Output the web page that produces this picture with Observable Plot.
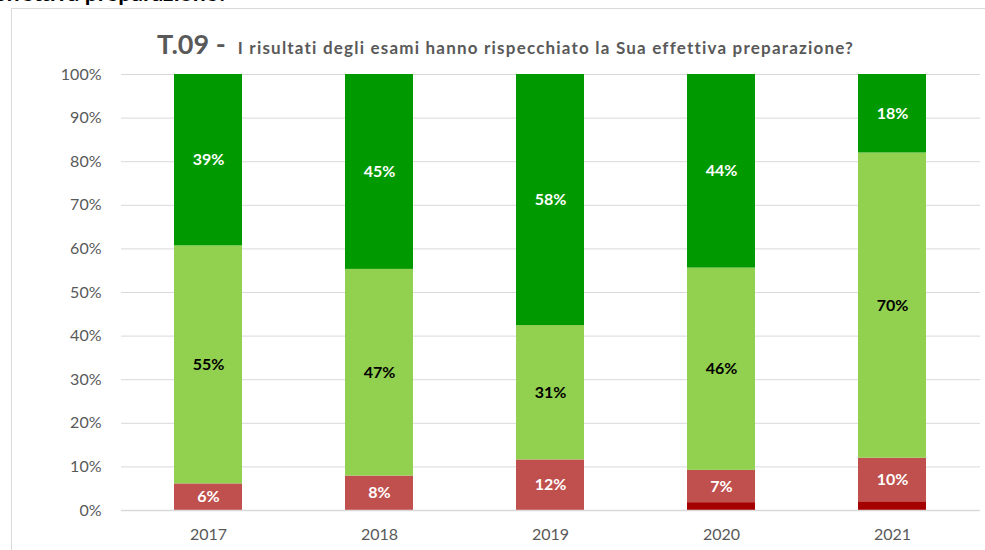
<!DOCTYPE html>
<html>
<head>
<meta charset="utf-8">
<script src="https://cdn.jsdelivr.net/npm/d3@7"></script>
<script src="https://cdn.jsdelivr.net/npm/@observablehq/plot@0.6"></script>
<style>
  html, body { margin: 0; padding: 0; background: #fff; overflow: hidden; }
  #wrap { position: relative; width: 985px; height: 550px; overflow: hidden; font-family: Lato, "Open Sans", sans-serif; }
  #frame { position: absolute; left: 11px; top: 8px; width: 1000px; height: 600px; border-left: 1px solid #d9d9d9; border-top: 1px solid #d9d9d9; }
  #cut { position: absolute; right: 757px; top: -19px; font-size: 23px; font-weight: bold; color: #000; white-space: nowrap; line-height: 1; }
  #title { position: absolute; left: 157px; top: 30px; white-space: nowrap; color: #595959; font-weight: bold; line-height: 1; }
  #title .big { font-size: 27px; }
  #title .small { font-size: 17px; letter-spacing: 1.2px; margin-left: 12px; }
  #chart { position: absolute; left: 0; top: 0; }
</style>
</head>
<body>
<div id="wrap">
  <div id="cut">effettiva preparazione?</div>
  <div id="frame"></div>
  <div id="title"><span class="big">T.09 -</span><span class="small">I risultati degli esami hanno rispecchiato la Sua effettiva preparazione?</span></div>
  <div id="chart"></div>
</div>
<script>
const years = ["2017", "2018", "2019", "2020", "2021"];
const seriesNames = ["decisamente no", "più no che sì", "più sì che no", "decisamente sì"];
const seriesColors = ["#a50000", "#c0504d", "#92d050", "#009900"];
const decisamenteNo = [0, 0, 0, 1.8, 2.0];
const piuNo         = [6.1, 7.9, 11.6, 7.4, 10.0];
const piuSi         = [54.6, 47.4, 30.8, 46.4, 70.0];
const decisamenteSi = [39.3, 44.7, 57.6, 44.4, 18.0];
const yTicks = [0, 10, 20, 30, 40, 50, 60, 70, 80, 90, 100];

const seriesValues = [decisamenteNo, piuNo, piuSi, decisamenteSi];
const data = [];
years.forEach((yr, i) => {
  seriesNames.forEach((s, k) => data.push({year: yr, series: s, value: seriesValues[k][i]}));
});

const labelWhite = d => (d.series === seriesNames[1] || d.series === seriesNames[3]) ? Math.round(d.value) + "%" : null;
const labelBlack = d => (d.series === seriesNames[2]) ? Math.round(d.value) + "%" : null;

const chart = Plot.plot({
  width: 985,
  height: 550,
  marginLeft: 121,
  marginRight: 5,
  marginTop: 74,
  marginBottom: 40,
  style: {fontFamily: "Lato, 'Open Sans', sans-serif", background: "transparent"},
  x: {domain: years, paddingInner: 0.6, paddingOuter: 0.3, label: null},
  y: {domain: [0, 100], label: null},
  color: {type: "ordinal", domain: seriesNames, range: seriesColors},
  marks: [
    Plot.gridY(yTicks, {stroke: "#d9d9d9", strokeOpacity: 1, strokeWidth: 1}),
    Plot.axisY({ticks: yTicks, tickSize: 0, tickPadding: 20, tickFormat: d => d + "%", fontSize: 16, fill: "#595959", label: null}),
    Plot.axisX({tickSize: 0, tickPadding: 18, fontSize: 16, fill: "#595959", label: null}),
    Plot.barY(data, {x: "year", y: "value", fill: "series"}),
    Plot.ruleY([0], {stroke: "#d9d9d9", strokeWidth: 1.5}),
    Plot.text(data, Plot.stackY({x: "year", y: "value", z: "series", text: labelWhite, fill: "#ffffff", fontSize: 16, fontWeight: "bold"})),
    Plot.text(data, Plot.stackY({x: "year", y: "value", z: "series", text: labelBlack, fill: "#000000", fontSize: 16, fontWeight: "bold"}))
  ]
});
document.getElementById("chart").appendChild(chart);
</script>
</body>
</html>
